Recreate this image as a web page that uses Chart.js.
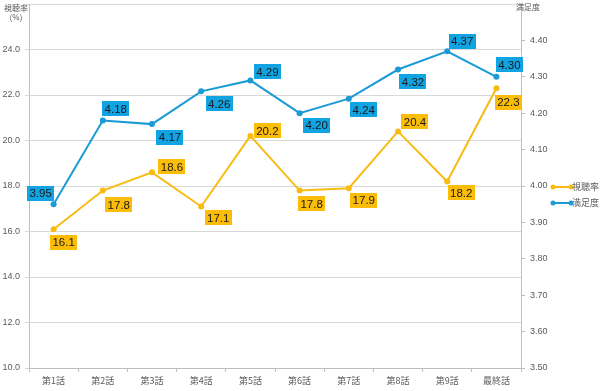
<!DOCTYPE html>
<html>
<head>
<meta charset="utf-8">
<script src="https://cdn.jsdelivr.net/npm/chart.js@4.4.1/dist/chart.umd.min.js"></script>
<style>
  html, body { margin: 0; padding: 0; background: #fff; }
  #wrap { width: 600px; height: 391px; }
</style>
</head>
<body>
<div id="wrap"><canvas id="myChart" width="600" height="391"></canvas></div>
<script>
const episodes = ['第1話', '第2話', '第3話', '第4話', '第5話', '第6話', '第7話', '第8話', '第9話', '最終話'];
const ratings = [16.1, 17.8, 18.6, 17.1, 20.2, 17.8, 17.9, 20.4, 18.2, 22.3];
const satisfaction = [3.95, 4.18, 4.17, 4.26, 4.29, 4.20, 4.24, 4.32, 4.37, 4.30];

// label placement (offset of box centre from point, px)
const ratingLabelOffsets = [[10, 13], [16, 14], [20, -6], [17, 11], [17, -5], [12, 13], [15, 12], [17, -10], [14, 11], [12, 14]];
const satLabelOffsets = [[-13, -11], [13, -12], [18, 13], [18, 12], [17, -9], [17, 12], [15, 11], [15, 12], [15, -10], [13, -12]];

const yellow = '#f7bb12';
const yellowBox = '#fbbd08';
const blue = '#1b9ad6';
const blueBox = '#12a3e3';
const gridColor = '#d9d9d9';
const axisColor = '#bfbfbf';
const textMuted = '#595959';
const numFont = "'Liberation Sans', 'DejaVu Sans', sans-serif";
const jpFont = "'Noto Sans CJK JP', sans-serif";

const labelBoxes = {
    id: 'labelBoxes',
    afterDatasetsDraw(chart) {
        const c = chart.ctx;
        const sets = [
            { idx: 0, offs: ratingLabelOffsets, box: yellowBox, fmt: v => v.toFixed(1) },
            { idx: 1, offs: satLabelOffsets, box: blueBox, fmt: v => v.toFixed(2) }
        ];
        c.save();
        c.font = '11.5px ' + numFont;
        c.textAlign = 'center';
        c.textBaseline = 'middle';
        sets.forEach(s => {
            const meta = chart.getDatasetMeta(s.idx);
            const data = chart.data.datasets[s.idx].data;
            meta.data.forEach((pt, i) => {
                const cx = pt.x + s.offs[i][0];
                const cy = pt.y + s.offs[i][1];
                const txt = s.fmt(data[i]);
                const w = c.measureText(txt).width + 5;
                const h = 15;
                c.fillStyle = s.box;
                c.fillRect(Math.round(cx - w / 2), Math.round(cy - h / 2), Math.round(w), h);
                c.fillStyle = '#1a1a1a';
                c.fillText(txt, cx, cy + 1);
            });
        });
        c.restore();
    }
};

const extras = {
    id: 'extras',
    afterDraw(chart) {
        const c = chart.ctx;
        c.save();
        // axis titles
        c.fillStyle = textMuted;
        c.font = '8px ' + jpFont;
        c.textAlign = 'center';
        c.textBaseline = 'middle';
        c.fillText('視聴率', 16, 8);
        c.fillText('(%)', 16, 17);
        c.textAlign = 'left';
        c.fillText('満足度', 516, 7);
        // legend
        const items = [
            { text: '視聴率', color: yellow, y: 187 },
            { text: '満足度', color: blue, y: 203 }
        ];
        items.forEach(it => {
            c.strokeStyle = it.color;
            c.lineWidth = 2;
            c.beginPath();
            c.moveTo(553, it.y);
            c.lineTo(571, it.y);
            c.stroke();
            c.fillStyle = it.color;
            [553, 571].forEach(x => {
                c.beginPath();
                c.arc(x, it.y, 2.5, 0, Math.PI * 2);
                c.fill();
            });
            c.fillStyle = textMuted;
            c.font = '9px ' + jpFont;
            c.textAlign = 'left';
            c.fillText(it.text, 572, it.y);
        });
        c.restore();
    }
};

function fixV(width) {
    return scale => {
        scale.width = width;
        scale.paddingTop = 0;
        scale.paddingBottom = 0;
    };
}

const ctx = document.getElementById('myChart');
new Chart(ctx, {
    type: 'line',
    data: {
        labels: episodes,
        datasets: [
            {
                label: '視聴率',
                data: ratings,
                yAxisID: 'y',
                borderColor: yellow,
                backgroundColor: yellow,
                borderWidth: 2,
                pointRadius: 3,
                pointBackgroundColor: yellow,
                pointBorderWidth: 0,
                tension: 0
            },
            {
                label: '満足度',
                data: satisfaction,
                yAxisID: 'y1',
                borderColor: blue,
                backgroundColor: blue,
                borderWidth: 2,
                pointRadius: 3,
                pointBackgroundColor: blue,
                pointBorderWidth: 0,
                tension: 0
            }
        ]
    },
    options: {
        responsive: false,
        animation: false,
        devicePixelRatio: 1,
        layout: { padding: { top: 3, left: 0, right: 0, bottom: 0 } },
        plugins: {
            legend: { display: false },
            tooltip: { enabled: false }
        },
        scales: {
            x: {
                offset: true,
                grid: { drawOnChartArea: false, offset: true, tickLength: 4, color: axisColor },
                border: { color: axisColor },
                ticks: { color: textMuted, font: { family: jpFont, size: 9 }, padding: 3, maxRotation: 0 },
                afterFit(scale) {
                    scale.height = 23;
                    scale.paddingLeft = 0;
                    scale.paddingRight = 0;
                }
            },
            y: {
                position: 'left',
                min: 10,
                max: 26,
                grid: { color: gridColor, tickLength: 4 },
                border: { color: axisColor },
                ticks: {
                    stepSize: 2,
                    color: textMuted,
                    font: { family: numFont, size: 9 },
                    padding: 5,
                    callback: v => (v === 26 ? '' : v.toFixed(1))
                },
                afterFit: fixV(29)
            },
            y1: {
                position: 'right',
                min: 3.5,
                max: 4.5,
                grid: { drawOnChartArea: false, tickLength: 4, color: axisColor },
                border: { color: axisColor },
                ticks: {
                    stepSize: 0.1,
                    color: textMuted,
                    font: { family: numFont, size: 9 },
                    padding: 5,
                    callback: v => (Math.abs(v - 4.5) < 1e-6 ? '' : v.toFixed(2))
                },
                afterFit: fixV(79)
            }
        }
    },
    plugins: [labelBoxes, extras]
});
</script>
</body>
</html>
